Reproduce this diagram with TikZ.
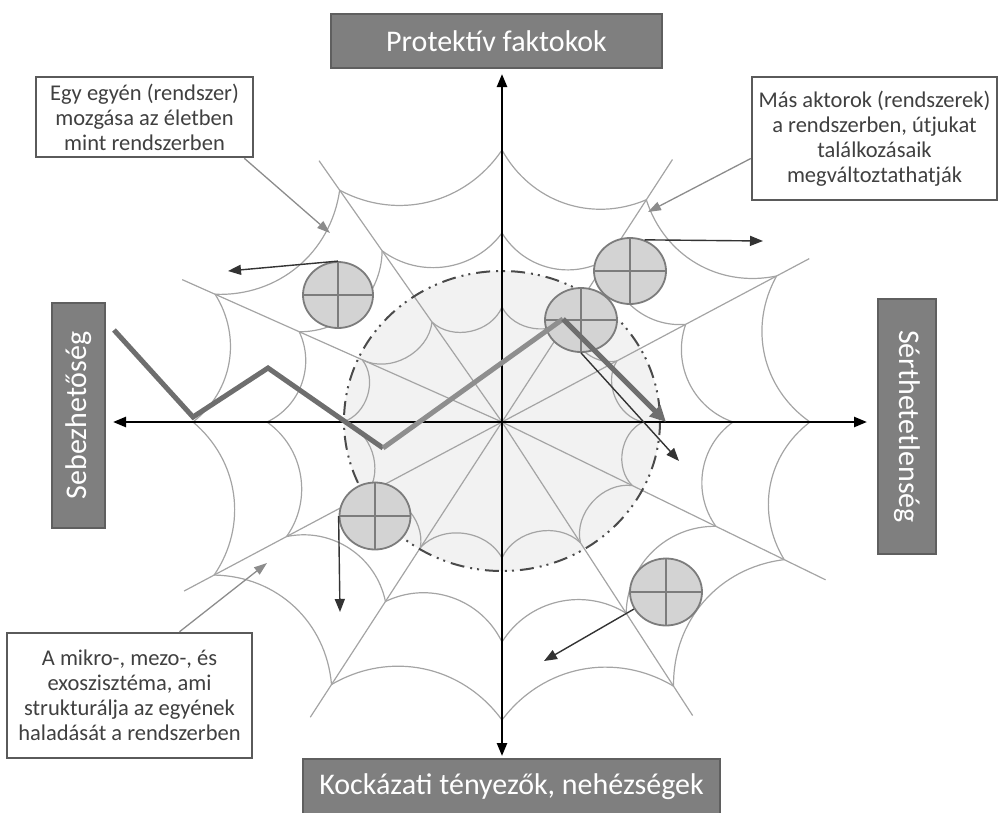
\documentclass[tikz,border=0pt]{standalone}
\usepackage{fontspec}
\setmainfont{Carlito}
\usetikzlibrary{arrows.meta,shapes.geometric}
\definecolor{titlefill}{HTML}{7F7F7F}
\definecolor{titledraw}{HTML}{5F5F5F}
\definecolor{webgray}{HTML}{A4A4A4}
\definecolor{annotxt}{HTML}{404040}
\definecolor{annodraw}{HTML}{5A5A5A}
\definecolor{ptrgray}{HTML}{8C8C8C}
\definecolor{zigdark}{HTML}{6E6E6E}
\definecolor{ziglight}{HTML}{8E8E8E}
\definecolor{circfill}{HTML}{D3D3D3}
\definecolor{circdraw}{HTML}{7C7C7C}
\definecolor{innerfill}{HTML}{F2F2F2}
\definecolor{dashgray}{HTML}{4A4A4A}
\definecolor{movegray}{HTML}{333333}
\begin{document}
\begin{tikzpicture}[x=1pt,y=-1pt,
  titlebox/.style={draw=titledraw, fill=titlefill, line width=1.5pt, text=white,
    font=\fontsize{30}{36}\selectfont, inner sep=0pt},
  annobox/.style={draw=annodraw, fill=white, line width=2.5pt, text=annotxt,
    font=\fontsize{22.5}{25}\selectfont, align=center, inner sep=0pt},
  web/.style={draw=webgray, line width=1.2pt},
  axisline/.style={line width=2.4pt, black, >={Triangle[length=13pt,width=10pt]}, <->},
  circ/.style={ellipse, draw=circdraw, fill=circfill, line width=1.8pt, inner sep=0pt},
  crossline/.style={draw=circdraw, line width=1.2pt},
  mover/.style={draw=movegray, line width=1.4pt, -{Triangle[length=13pt,width=10pt]}},
  pointer/.style={draw=ptrgray, line width=1.3pt, -{Triangle[length=13pt,width=9pt]}},
  zig/.style={line width=5pt, line join=miter}
]
\useasboundingbox (0,0) rectangle (999,812);

% inner region
\fill[innerfill] (502,421) ellipse [x radius=158, y radius=150];

% spider web
\begin{scope}[shift={(502,422)}, yscale=-1]
  \foreach \a/\ra/\rb/\rc/\re [count=\i from 0] in {
      0/141/231/308/345, 28/130/208/311/348, 57/125/195/265/313,
      90/115/189/272/300, 125/122/209/283/319, 156/153/222/314/350,
      180/159/235/309/345, 208/153/244/326/360, 237/150/214/313/352,
      270/136/220/298/330, 303/144/228/315/350, 334/145/238/314/360} {
    \draw[web] (0,0) -- (\a:\re);
    \coordinate (w\i-1) at (\a:\ra);
    \coordinate (w\i-2) at (\a:\rb);
    \coordinate (w\i-3) at (\a:\rc);
  }
  \foreach \i in {0,...,11} {
    \pgfmathtruncatemacro\j{mod(\i+1,12)}
    \draw[web] (w\i-1) to[bend right=55] (w\j-1);
    \draw[web] (w\i-2) to[bend right=45] (w\j-2);
    \draw[web] (w\i-3) to[bend right=42] (w\j-3);
  }
\end{scope}

% dashed boundary
\draw[dashgray, line width=2pt, dash pattern=on 14pt off 6pt on 2pt off 5pt on 2pt off 6pt]
  (502,421) ellipse [x radius=158, y radius=150];

% axes
\coordinate (axL) at (113,422);
\coordinate (axR) at (867,422);
\coordinate (axT) at (502,74);
\coordinate (axB) at (502,756);
\draw[axisline] (axL) -- (axR);
\draw[axisline] (axT) -- (axB);

% actor circles
\node[circ, minimum width=70pt, minimum height=66pt] (c1) at (338,295) {};
\node[circ, minimum width=72pt, minimum height=66pt] (c2) at (630,271) {};
\node[circ, minimum width=72pt, minimum height=64pt] (c3) at (581,320) {};
\node[circ, minimum width=71pt, minimum height=67pt] (c4) at (375,516) {};
\node[circ, minimum width=72pt, minimum height=67pt] (c5) at (666,592) {};
\foreach \c in {c1,c2,c3,c4,c5} {
  \draw[crossline] (\c.north) -- (\c.south) (\c.west) -- (\c.east);
}

% zigzag path of the individual
\coordinate (z0) at (114,330);
\coordinate (z1) at (193,417);
\coordinate (z2) at (268,368);
\coordinate (z3) at (383,448);
\coordinate (z4) at (563,319);
\coordinate (z5) at (666,422);
\draw[zig, zigdark] (z0) -- (z1) -- (z2) -- (z3);
\draw[zig, ziglight] (z3) -- (z4);
\draw[zig, zigdark, -{Triangle[length=16pt,width=15pt]}] (z4) -- (z5);

% movement arrows of the actors
\coordinate (m1) at (228,271);
\coordinate (m2) at (763,241);
\coordinate (m3) at (679,461);
\coordinate (m4) at (340,612);
\coordinate (m5) at (544,661);
\draw[mover] (c1.north) -- (m1);
\draw[mover] (c2.65) -- (m2);
\draw[mover] (c3.south) -- (m3);
\draw[mover] (c4.west) -- (m4);
\draw[mover] (c5.208) -- (m5);

% title boxes
\node[titlebox, minimum width=331pt, minimum height=54pt] (prot) at (496.5,41) {Protektív faktokok};
\node[titlebox, minimum width=417pt, minimum height=56pt] (kock) at (511.5,787) {Kockázati tényezők, nehézségek};
\node[titlebox, rotate=90, minimum width=225pt, minimum height=53pt] (seb) at (78.5,415.5) {Sebezhetőség};
\node[titlebox, rotate=-90, minimum width=255pt, minimum height=58pt] (sert) at (907,426.5) {Sérthetetlenség};

% annotation boxes
\node[annobox, minimum width=217pt, minimum height=80pt] (b1) at (144.5,117)
  {Egy egyén (rendszer)\\mozgása az életben\\mint rendszerben};
\node[annobox, minimum width=245pt, minimum height=123pt] (b2) at (874.5,138.5)
  {Más aktorok (rendszerek)\\a rendszerben, útjukat\\találkozásaik\\megváltoztathatják};
\node[annobox, minimum width=245pt, minimum height=125pt] (b3) at (129.5,695.5)
  {A mikro-, mezo-, és\\exoszisztéma, ami\\strukturálja az egyének\\haladását a rendszerben};

% pointers
\coordinate (p1) at (330,233);
\coordinate (p2) at (648,212);
\coordinate (p3) at (267,563);
\draw[pointer] ([xshift=-10pt]b1.south east) -- (p1);
\draw[pointer] ([yshift=-20pt]b2.west) -- (p2);
\draw[pointer] ([xshift=50pt]b3.north) -- (p3);
\end{tikzpicture}
\end{document}
